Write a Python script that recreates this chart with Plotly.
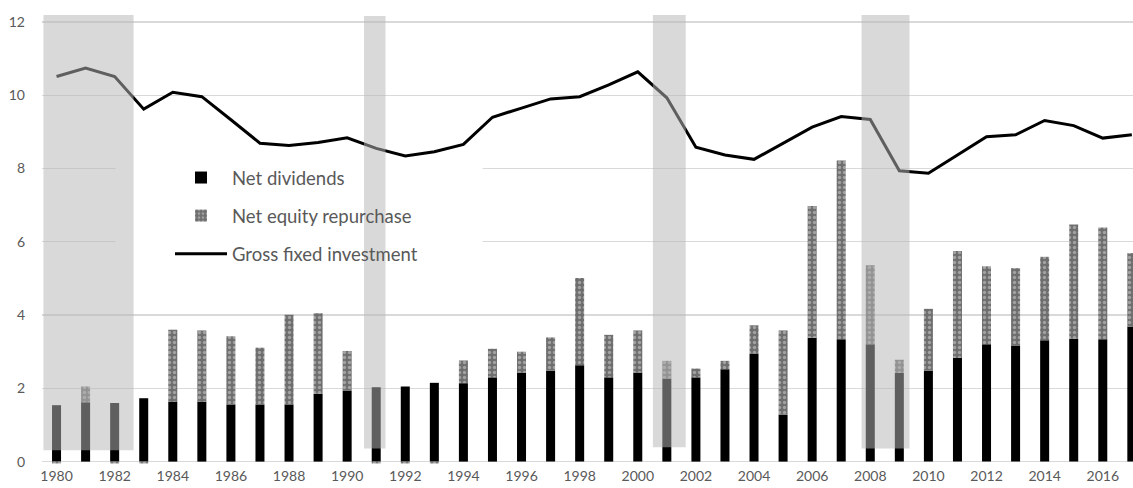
import plotly.graph_objects as go

years = list(range(1980, 2018))
net_dividends = [1.54, 1.62, 1.60, 1.73, 1.64, 1.64, 1.56, 1.56, 1.56, 1.85,
                 1.94, 2.03, 2.05, 2.15, 2.14, 2.30, 2.43, 2.48, 2.63, 2.30,
                 2.43, 2.27, 2.30, 2.52, 2.95, 1.28, 3.38, 3.34, 3.20, 2.42,
                 2.48, 2.83, 3.20, 3.17, 3.31, 3.35, 3.34, 3.69]
net_repurchase = [-0.05, 0.43, -0.05, -0.05, 1.96, 1.94, 1.86, 1.55, 2.45, 2.20,
                  1.08, -0.05, -0.05, -0.05, 0.62, 0.78, 0.57, 0.91, 2.38, 1.16,
                  1.15, 0.48, 0.24, 0.23, 0.77, 2.30, 3.60, 4.88, 2.16, 0.36,
                  1.69, 2.92, 2.13, 2.11, 2.28, 3.12, 3.05, 2.00]
gross_investment = [10.51, 10.74, 10.51, 9.62, 10.08, 9.96, 9.33, 8.69, 8.63, 8.71,
                    8.84, 8.55, 8.34, 8.46, 8.66, 9.40, 9.65, 9.90, 9.96, 10.28,
                    10.64, 9.93, 8.58, 8.37, 8.25, 8.69, 9.13, 9.42, 9.34, 7.94,
                    7.87, 8.37, 8.87, 8.92, 9.31, 9.17, 8.83, 8.92]
recessions = [(1979.55, 1982.65, 0.31, 12.19),
              (1990.58, 1991.32, 0.36, 12.16),
              (2000.52, 2001.65, 0.39, 12.21),
              (2007.70, 2009.35, 0.36, 12.21)]
tick_years = list(range(1980, 2017, 2))
y_ticks = [0, 2, 4, 6, 8, 10, 12]

FONT = "Lato"
GREY = "#595959"

W, H = 1133, 488
L, T, B = 42, 15, 22

fig = go.Figure()
fig.add_trace(go.Bar(
    x=years, y=net_dividends, name="Net dividends", width=0.31,
    marker=dict(color="black", line=dict(width=0)), legendgroup="a"))
fig.add_trace(go.Bar(
    x=years, y=net_repurchase, name="Net equity repurchase", width=0.31,
    marker=dict(color="#7a7a7a", line=dict(width=0),
                pattern=dict(shape=".", fgcolor="#d6d6d6", bgcolor="#6e6e6e",
                             size=5, solidity=0.35)),
    legendgroup="b"))
fig.add_trace(go.Scatter(
    x=years, y=gross_investment, name="Gross fixed investment", mode="lines",
    line=dict(color="black", width=3), legendgroup="c"))

# white box behind legend (cuts gridlines)
fig.add_shape(type="rect", xref="x", yref="y", x0=1982.03, x1=1994.66,
              y0=5.75, y1=8.3, fillcolor="white", line=dict(width=0),
              layer="between")

for x0, x1, y0, y1 in recessions:
    fig.add_shape(type="rect", xref="x", yref="y", x0=x0, x1=x1, y0=y0, y1=y1,
                  fillcolor="rgba(183,183,183,0.52)", line=dict(width=0),
                  layer="above")

plot_w = W - L
plot_h = H - T - B
fig.update_layout(
    width=W, height=H,
    margin=dict(l=L, r=0, t=T, b=B, autoexpand=False),
    paper_bgcolor="white", plot_bgcolor="white",
    barmode="relative",
    hovermode=False,
    font=dict(family=FONT, color=GREY, size=14),
    showlegend=True,
    legend=dict(x=(170 - 42) / plot_w, y=1 - (159 - 15) / plot_h,
                xanchor="left", yanchor="top",
                bgcolor="rgba(0,0,0,0)", borderwidth=0,
                font=dict(family=FONT, size=18.5, color=GREY),
                traceorder="grouped", tracegroupgap=11, itemwidth=52),
    xaxis=dict(range=[1979.5, 2017.04], tickmode="array", tickvals=tick_years,
               ticktext=[str(y) for y in tick_years], showgrid=False,
               zeroline=False, showline=False, ticks="", automargin=False,
               tickfont=dict(family=FONT, size=14, color=GREY)),
    yaxis=dict(range=[-0.12, 12.19], tickmode="array", tickvals=y_ticks,
               showgrid=True, gridcolor="#d9d9d9", gridwidth=1.2,
               zeroline=True, zerolinecolor="#d9d9d9", zerolinewidth=1.5,
               showline=False, ticks="", ticklabelstandoff=16, automargin=False,
               tickfont=dict(family=FONT, size=14, color=GREY)),
)

fig.write_html(
    "out.html",
    config={"displayModeBar": False, "staticPlot": True},
    post_script="document.body.style.margin='0';document.body.style.overflow='hidden';",
)
